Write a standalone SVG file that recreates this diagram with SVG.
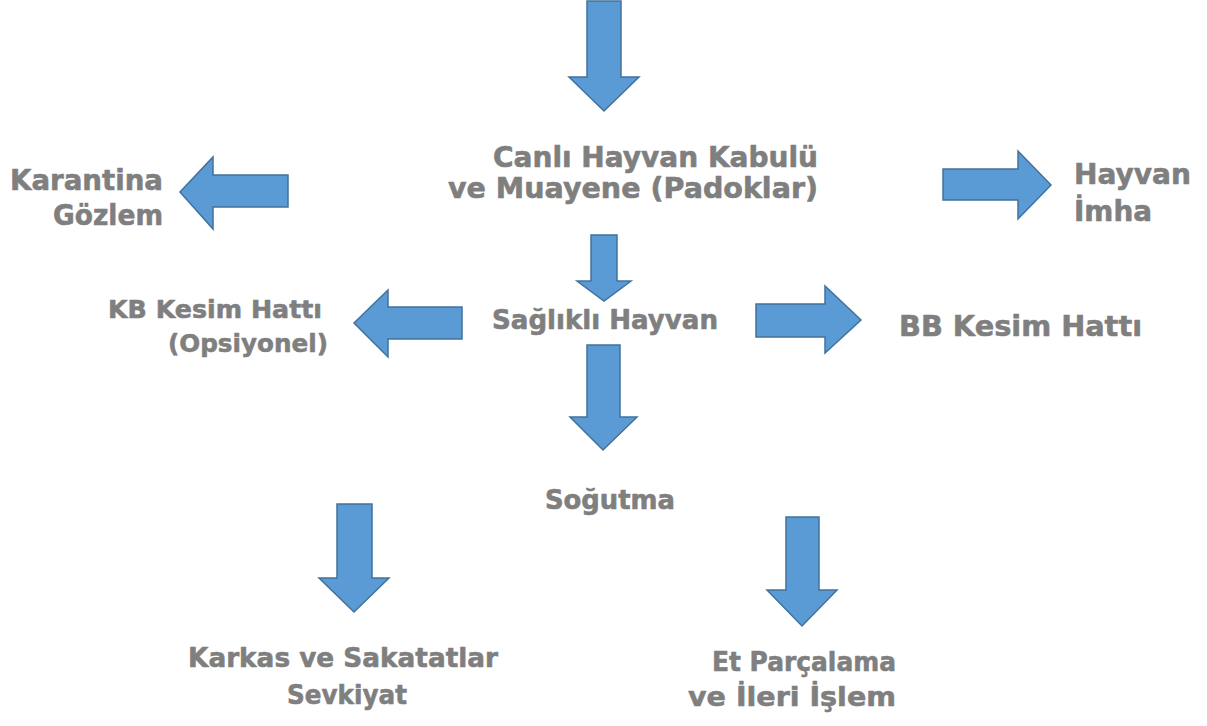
<svg xmlns="http://www.w3.org/2000/svg" width="1207" height="726" viewBox="0 0 1207 726">
<style>
.arr{fill:#5b9bd5;stroke:#41719c;stroke-width:1.5;stroke-linejoin:miter}
.t{font-family:"DejaVu Sans","Verdana",sans-serif;font-weight:bold;fill:#7f7f7f;stroke:#7f7f7f;stroke-width:0.6;stroke-linejoin:round}
</style>
<rect width="1207" height="726" fill="#ffffff"/>
<g id="connectors">
<polygon class="arr" points="587,1 621,1 621,77 639,77 604,111 569,77 587,77"/>
<polygon class="arr" points="288,175 288,207 213,207 213,229 180,192 213,157 213,175"/>
<polygon class="arr" points="943,169 1018,169 1018,151 1051,185 1018,219 1018,200 943,200"/>
<polygon class="arr" points="591,235 617,235 617,281 631,281 604,301 577,281 591,281"/>
<polygon class="arr" points="462,307 462,339 388,339 388,357 354,323 388,290 388,307"/>
<polygon class="arr" points="756,304 825,304 825,286 861,320 825,353 825,337 756,337"/>
<polygon class="arr" points="587,345 620,345 620,417 637,417 603,450 570,417 587,417"/>
<polygon class="arr" points="337,504 372,504 372,578 389,578 354,612 319,578 337,578"/>
<polygon class="arr" points="786,517 819,517 819,590 837,590 802,626 767,590 786,590"/>
</g>
<g id="node-canli">
<text class="t" x="818" y="167" font-size="27.5" text-anchor="end" textLength="325" lengthAdjust="spacingAndGlyphs">Canlı Hayvan Kabulü</text>
<text class="t" x="818" y="198" font-size="27.5" text-anchor="end" textLength="370" lengthAdjust="spacingAndGlyphs">ve Muayene (Padoklar)</text>
</g>
<g id="node-karantina">
<text class="t" x="163" y="190" font-size="28.5" text-anchor="end" textLength="153" lengthAdjust="spacingAndGlyphs">Karantina</text>
<text class="t" x="163" y="225" font-size="28.5" text-anchor="end" textLength="110" lengthAdjust="spacingAndGlyphs">Gözlem</text>
</g>
<g id="node-imha">
<text class="t" x="1074" y="184" font-size="28.5" textLength="117" lengthAdjust="spacingAndGlyphs">Hayvan</text>
<text class="t" x="1074" y="221" font-size="28.5" textLength="78" lengthAdjust="spacingAndGlyphs">İmha</text>
</g>
<g id="node-saglikli">
<text class="t" x="492" y="329" font-size="26" textLength="226" lengthAdjust="spacingAndGlyphs">Sağlıklı Hayvan</text>
</g>
<g id="node-kb">
<text class="t" x="322" y="318" font-size="25.5" text-anchor="end" textLength="214" lengthAdjust="spacingAndGlyphs">KB Kesim Hattı</text>
<text class="t" x="328" y="352" font-size="25.5" text-anchor="end" textLength="160" lengthAdjust="spacingAndGlyphs">(Opsiyonel)</text>
</g>
<g id="node-bb">
<text class="t" x="899" y="336" font-size="29" textLength="243" lengthAdjust="spacingAndGlyphs">BB Kesim Hattı</text>
</g>
<g id="node-sogutma">
<text class="t" x="545" y="509" font-size="26" textLength="130" lengthAdjust="spacingAndGlyphs">Soğutma</text>
</g>
<g id="node-karkas">
<text class="t" x="343" y="667" font-size="26.5" text-anchor="middle" textLength="310" lengthAdjust="spacingAndGlyphs">Karkas ve Sakatatlar</text>
<text class="t" x="347" y="704" font-size="26.5" text-anchor="middle" textLength="120" lengthAdjust="spacingAndGlyphs">Sevkiyat</text>
</g>
<g id="node-et">
<text class="t" x="896" y="671" font-size="26.5" text-anchor="end" textLength="184" lengthAdjust="spacingAndGlyphs">Et Parçalama</text>
<text class="t" x="896" y="706" font-size="26.5" text-anchor="end" textLength="208" lengthAdjust="spacingAndGlyphs">ve İleri İşlem</text>
</g>
</svg>
